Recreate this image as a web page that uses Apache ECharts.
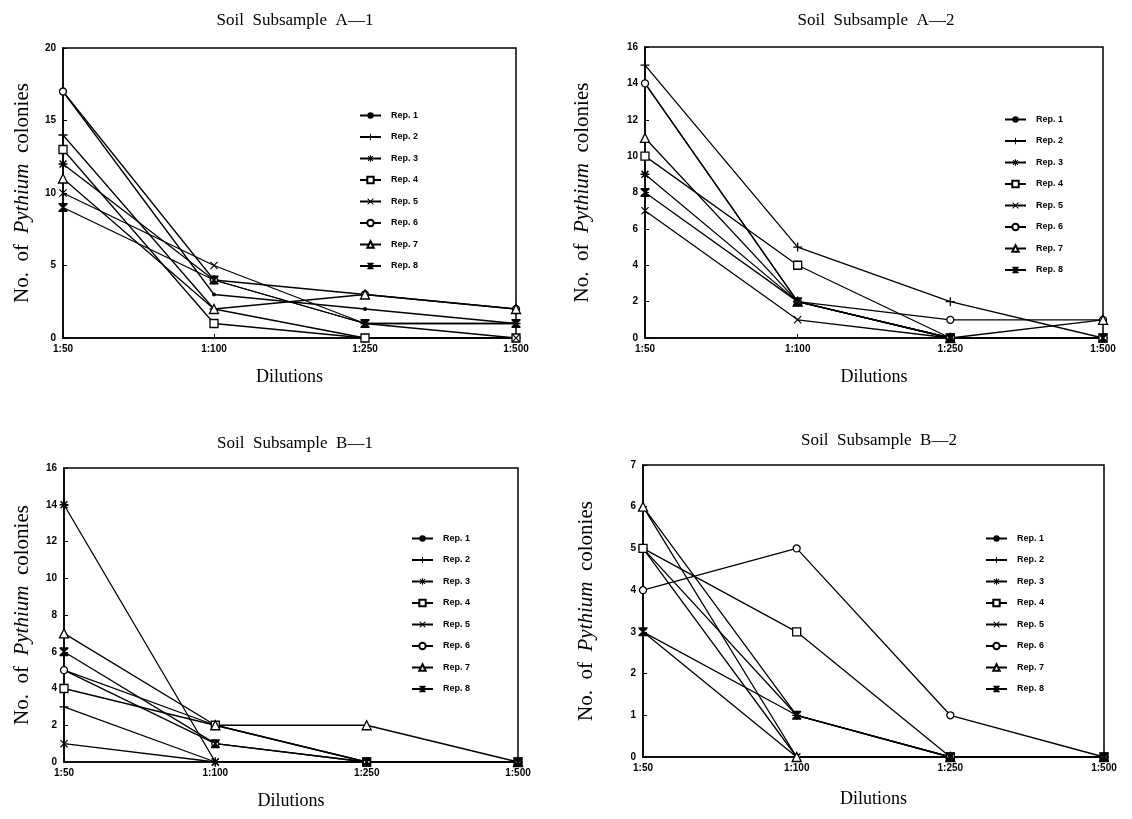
<!DOCTYPE html>
<html>
<head>
<meta charset="utf-8">
<script src="https://cdn.jsdelivr.net/npm/echarts@6/dist/echarts.min.js"></script>
<style>
  html, body { margin: 0; padding: 0; background: #fff; }
  #main { width: 1132px; height: 819px; }
</style>
</head>
<body>
<div id="main"></div>
<script>
// categories + names
var dilutions = ['1:50', '1:100', '1:250', '1:500'];
var repNames = ['Rep. 1', 'Rep. 2', 'Rep. 3', 'Rep. 4', 'Rep. 5', 'Rep. 6', 'Rep. 7', 'Rep. 8'];
var panelTitles = ['Soil  Subsample  A\u20141', 'Soil  Subsample  A\u20142', 'Soil  Subsample  B\u20141', 'Soil  Subsample  B\u20142'];

// colony counts, one row per rep (Rep. 1 .. Rep. 8)
var subA1 = [
  [17, 3, 2, 1],
  [14, 2, 0, 0],
  [12, 4, 1, 1],
  [13, 1, 0, 0],
  [10, 5, 1, 0],
  [17, 4, 3, 2],
  [11, 2, 3, 2],
  [9, 4, 1, 1]
];
var subA2 = [
  [14, 2, 0, 0],
  [15, 5, 2, 0],
  [9, 2, 0, 0],
  [10, 4, 0, 0],
  [7, 1, 0, 0],
  [14, 2, 1, 1],
  [11, 2, 0, 1],
  [8, 2, 0, 0]
];
var subB1 = [
  [5, 2, 0, 0],
  [3, 0, 0, 0],
  [14, 0, 0, 0],
  [4, 2, 0, 0],
  [1, 0, 0, 0],
  [5, 1, 0, 0],
  [7, 2, 2, 0],
  [6, 1, 0, 0]
];
var subB2 = [
  [6, 1, 0, 0],
  [5, 1, 0, 0],
  [5, 0, 0, 0],
  [5, 3, 0, 0],
  [3, 0, 0, 0],
  [4, 5, 1, 0],
  [6, 0, 0, 0],
  [3, 1, 0, 0]
];
// y axis ranges / tick steps
var yMax = [20, 16, 16, 7];
var yStep = [5, 2, 2, 1];

var panels = [subA1, subA2, subB1, subB2];

// layout of the four boxes
var grids = [
  { left: 63, top: 48, width: 453, height: 290 },
  { left: 645, top: 47, width: 458, height: 291 },
  { left: 64, top: 468, width: 454, height: 294 },
  { left: 643, top: 465, width: 461, height: 292 }
];
var titlePos = [[290, 7], [871, 7], [290, 430], [874, 427]];
var legendPos = [[359, 111], [1004, 115], [411, 534], [985, 534]];
var yNameGap = [30, 52, 31, 46];
var xNameGap = [30, 30, 30, 33];

// marker per rep
var marks = [
  { symbol: 'circle', size: 4, fill: '#000' },
  { symbol: 'path://M4.3,0H5.7V10H4.3ZM0,4.3H10V5.7H0Z', size: 9, fill: '#000' },
  { symbol: 'path://M4.2,0H5.8V10H4.2ZM0,4.2H10V5.8H0ZM0.6,1.8L1.8,0.6L9.4,8.2L8.2,9.4ZM8.2,0.6L9.4,1.8L1.8,9.4L0.6,8.2Z', size: 9, fill: '#000' },
  { symbol: 'rect', size: 8, hollow: true },
  { symbol: 'path://M0,1L1,0L10,9L9,10ZM9,0L10,1L1,10L0,9Z', size: 8, fill: '#000' },
  { symbol: 'circle', size: 7, hollow: true },
  { symbol: 'triangle', size: 9, hollow: true },
  { symbol: 'path://M0,0H10V1.6L6.2,5L10,8.4V10H0V8.4L3.8,5L0,1.6Z', size: 9, fill: '#000' }
];

var serif = '"Liberation Serif", "DejaVu Serif", serif';
var tickFont = '"Liberation Sans", Arial, sans-serif';

var xAxes = [], yAxes = [], series = [], titles = [], legends = [];

panels.forEach(function (rows, p) {
  titles.push({
    text: panelTitles[p],
    left: titlePos[p][0],
    top: titlePos[p][1],
    textAlign: 'center',
    textStyle: { fontFamily: serif, fontWeight: 'normal', fontSize: 17, color: '#000' }
  });
  legends.push({
    data: repNames,
    orient: 'vertical',
    left: legendPos[p][0],
    top: legendPos[p][1],
    padding: 0,
    itemWidth: 21,
    itemHeight: 8,
    itemGap: 12.5,
    selectedMode: false,
    textStyle: { fontFamily: tickFont, fontWeight: 'bold', fontSize: 9, color: '#000', padding: [0, 0, 0, 5] }
  });
  xAxes.push({
    gridIndex: p,
    type: 'category',
    data: dilutions,
    boundaryGap: false,
    name: 'Dilutions',
    nameLocation: 'middle',
    nameGap: xNameGap[p],
    nameTextStyle: { fontFamily: serif, fontSize: 18, color: '#000' },
    axisLine: { lineStyle: { color: '#000', width: 1.5 } },
    axisTick: { inside: true, length: 4, lineStyle: { color: '#000' } },
    axisLabel: { fontFamily: tickFont, fontWeight: 'bold', fontSize: 10, color: '#000', margin: 6 },
    splitLine: { show: false }
  });
  yAxes.push({
    gridIndex: p,
    type: 'value',
    min: 0,
    max: yMax[p],
    interval: yStep[p],
    name: '{n|No.  of  }{i|Pythium}{n|  colonies}',
    nameLocation: 'middle',
    nameGap: yNameGap[p],
    nameRotate: 90,
    nameTextStyle: {
      rich: {
        n: { fontFamily: serif, fontSize: 21, color: '#000' },
        i: { fontFamily: serif, fontSize: 21, fontStyle: 'italic', color: '#000' }
      }
    },
    axisLine: { show: true, lineStyle: { color: '#000', width: 1.5 } },
    axisTick: { show: true, inside: true, length: 4, lineStyle: { color: '#000' } },
    axisLabel: { fontFamily: tickFont, fontWeight: 'bold', fontSize: 10, color: '#000', margin: 7 },
    splitLine: { show: false }
  });
  rows.forEach(function (vals, r) {
    var m = marks[r];
    series.push({
      type: 'line',
      name: repNames[r],
      xAxisIndex: p,
      yAxisIndex: p,
      data: vals,
      symbol: m.symbol,
      symbolSize: m.size,
      showAllSymbol: true,
      clip: false,
      animation: false,
      lineStyle: { color: '#000', width: 1.3 },
      itemStyle: m.hollow
        ? { color: '#fff', borderColor: '#000', borderWidth: 1.3 }
        : { color: m.fill, borderWidth: 0 },
      emphasis: { disabled: true }
    });
  });
});

var chart = echarts.init(document.getElementById('main'), null, { renderer: 'canvas' });
chart.setOption({
  backgroundColor: '#fff',
  animation: false,
  title: titles,
  legend: legends,
  grid: grids.map(function (g) {
    return Object.assign({ show: true, borderColor: '#000', borderWidth: 1.5, backgroundColor: 'transparent' }, g);
  }),
  xAxis: xAxes,
  yAxis: yAxes,
  series: series
});
</script>
</body>
</html>
